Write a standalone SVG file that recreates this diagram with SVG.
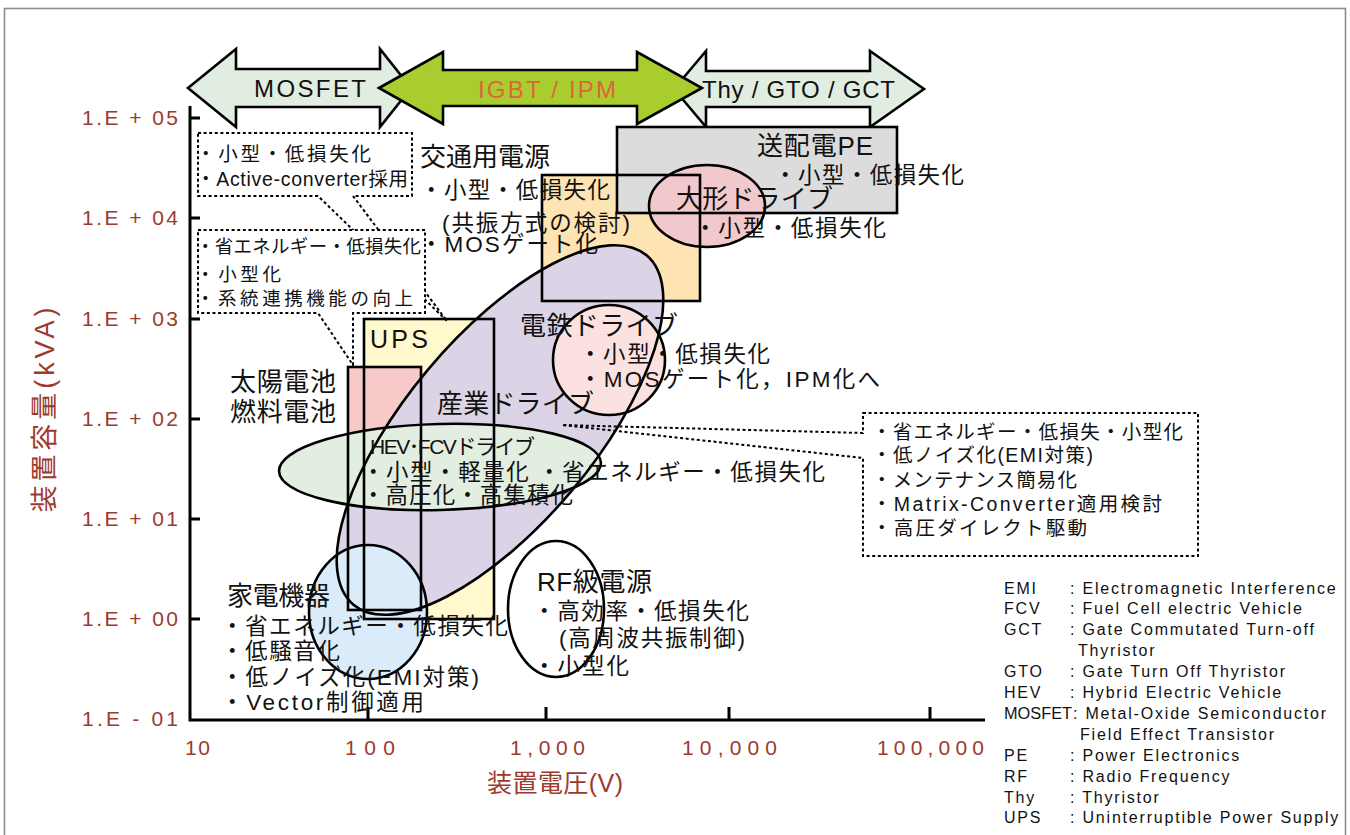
<svg xmlns="http://www.w3.org/2000/svg" xmlns:xlink="http://www.w3.org/1999/xlink" width="1350" height="835" viewBox="0 0 1350 835">
<style>
text{font-family:"Liberation Sans","Noto Sans CJK JP",sans-serif;fill:#111}
.t24{font-size:26px}
.t21{font-size:22.5px}
.t18{font-size:19.5px}
.t18s{font-size:18.5px}
.lg{font-size:16px;letter-spacing:1.8px}
.ax{font-size:21px;fill:#9c3a2f}
.axt{font-size:25px;fill:#9c3a2f}
.ol{fill:none;stroke:#000;stroke-width:2.6}
.dot{fill:none;stroke:#000;stroke-width:2;stroke-dasharray:3 2.6}
.arw{stroke:#000;stroke-width:2.6;stroke-linejoin:miter}
.axis{stroke:#000;stroke-width:3;fill:none}
</style>
<defs>
<rect id="shp-orange" x="542" y="175" width="158" height="126"/>
<rect id="shp-gray" x="617" y="127" width="280" height="86"/>
<ellipse id="shp-large" cx="707" cy="206" rx="58" ry="41"/>
<rect id="shp-ups" x="364" y="319" width="130" height="300"/>
<rect id="shp-solar" x="348" y="367" width="73" height="243"/>
<ellipse id="shp-ind" cx="500" cy="430" rx="228" ry="94" transform="rotate(-50 500 430)"/>
<ellipse id="shp-rail" cx="609" cy="360" rx="56" ry="55"/>
<ellipse id="shp-hev" cx="440" cy="467" rx="161" ry="43" transform="rotate(-1.5 440 467)"/>
<ellipse id="shp-home" cx="368" cy="612" rx="59" ry="67"/>
<ellipse id="shp-rf" cx="556" cy="609" rx="48" ry="68"/>
</defs>
<rect x="4.5" y="8.5" width="1341" height="840" fill="#fff" stroke="#8c8c8c" stroke-width="1.6"/>

<g id="device-arrows">
<polygon class="arw" fill="#e0ede0" points="188,88 236,49 236,69 380,69 380,49 411,88 380,127 380,107 236,107 236,127"/>
<polygon class="arw" fill="#e0ede0" points="674,89 706,51 706,71 870,71 870,51 924,89 870,127 870,107 706,107 706,127"/>
<polygon class="arw" fill="#a9cd2f" points="379,88 443,52 443,70 637,70 637,52 702,88 637,124 637,106 443,106 443,124"/>
<text x="254" y="97" style="font-size:24px" textLength="112" lengthAdjust="spacing">MOSFET</text>
<text x="478" y="98" style="font-size:24px;fill:#e0643c" textLength="138" lengthAdjust="spacing">IGBT / IPM</text>
<text x="702" y="98" style="font-size:24px" textLength="193" lengthAdjust="spacing">Thy / GTO / GCT</text>
</g>

<g id="fills">
<use xlink:href="#shp-orange" fill="#fde4b2"/>
<use xlink:href="#shp-gray" fill="#dcdcdc"/>
<use xlink:href="#shp-large" fill="#f1c9cd"/>
<use xlink:href="#shp-ups" fill="#fff9cd"/>
<use xlink:href="#shp-solar" fill="#f7c9c8"/>
<use xlink:href="#shp-ind" fill="#dcd4e6"/>
<use xlink:href="#shp-rail" fill="#fbe1df"/>
<use xlink:href="#shp-hev" fill="#e2eee0"/>
<use xlink:href="#shp-home" fill="#daebf9"/>
<use xlink:href="#shp-rf" fill="#ffffff"/>
</g>

<g id="axes">
<path class="axis" d="M190,106 V720 H985"/>
<path class="axis" d="M190,118 h10 M190,218 h10 M190,319 h10 M190,419 h10 M190,519 h10 M190,619 h10"/>
<path class="axis" d="M368,707 V720 M546,707 V720 M729,707 V720 M930,707 V720"/>
<text class="ax" x="82" y="125" textLength="96" lengthAdjust="spacing">1.E + 05</text>
<text class="ax" x="82" y="225" textLength="96" lengthAdjust="spacing">1.E + 04</text>
<text class="ax" x="82" y="326" textLength="96" lengthAdjust="spacing">1.E + 03</text>
<text class="ax" x="82" y="426" textLength="96" lengthAdjust="spacing">1.E + 02</text>
<text class="ax" x="82" y="526" textLength="96" lengthAdjust="spacing">1.E + 01</text>
<text class="ax" x="82" y="626" textLength="96" lengthAdjust="spacing">1.E + 00</text>
<text class="ax" x="82" y="726" textLength="96" lengthAdjust="spacing">1.E - 01</text>
<text class="ax" x="185" y="755" textLength="25" lengthAdjust="spacing">10</text>
<text class="ax" x="345" y="755" textLength="50" lengthAdjust="spacing">100</text>
<text class="ax" x="510" y="755" textLength="75" lengthAdjust="spacing">1,000</text>
<text class="ax" x="682" y="755" textLength="95" lengthAdjust="spacing">10,000</text>
<text class="ax" x="877" y="755" textLength="107" lengthAdjust="spacing">100,000</text>
<text class="axt" x="487" y="792" textLength="136" lengthAdjust="spacing">装置電圧(V)</text>
<text class="axt" transform="translate(54,410) rotate(-90)" text-anchor="middle" style="font-size:27px" textLength="205" lengthAdjust="spacing">装置容量(kVA)</text>
</g>

<g id="callouts">
<path class="dot" d="M198,133 H412 V196 H353 L447,321 L318,196 H198 Z"/>
<path class="dot" style="fill:#fff" d="M198,230 H425 V313 H353 L353,365 L318,313 H198 Z"/>
<path class="dot" d="M863,413 H1198 V556 H863 V458 L562,425 L863,433 Z"/>
</g>

<g id="note-ups">
<text class="t18" x="196" y="161" textLength="175" lengthAdjust="spacing">・小型・低損失化</text>
<text class="t18" x="196" y="186" textLength="212" lengthAdjust="spacing">・Active-converter採用</text>
</g>
<g id="note-solar">
<text class="t18s" x="196" y="253" textLength="225" lengthAdjust="spacing">・省エネルギー・低損失化</text>
<text class="t18s" x="196" y="281" textLength="85" lengthAdjust="spacing">・小型化</text>
<text class="t18s" x="196" y="305" textLength="217" lengthAdjust="spacing">・系統連携機能の向上</text>
</g>
<g id="note-industry">
<text class="t18" x="872" y="439" textLength="311" lengthAdjust="spacing">・省エネルギー・低損失・小型化</text>
<text class="t18" x="872" y="462" textLength="221" lengthAdjust="spacing">・低ノイズ化(EMI対策)</text>
<text class="t18" x="872" y="487" textLength="205" lengthAdjust="spacing">・メンテナンス簡易化</text>
<text class="t18" x="872" y="511" textLength="290" lengthAdjust="spacing">・Matrix-Converter適用検討</text>
<text class="t18" x="872" y="535" textLength="215" lengthAdjust="spacing">・高圧ダイレクト駆動</text>
</g>

<g id="traffic-power">
<use xlink:href="#shp-orange" class="ol"/>
<text class="t24" x="420" y="166" textLength="130" lengthAdjust="spacing">交通用電源</text>
<text class="t21" x="420" y="198" textLength="190" lengthAdjust="spacing">・小型・低損失化</text>
<text class="t21" x="442" y="231" textLength="188" lengthAdjust="spacing">(共振方式の検討)</text>
<text class="t21" x="420" y="252" textLength="178" lengthAdjust="spacing">・MOSゲート化</text>
</g>
<g id="transmission-pe">
<use xlink:href="#shp-gray" class="ol"/>
<text class="t24" x="757" y="155" textLength="116" lengthAdjust="spacing">送配電PE</text>
<text class="t21" x="774" y="183" textLength="190" lengthAdjust="spacing">・小型・低損失化</text>
</g>
<g id="large-drive">
<use xlink:href="#shp-large" class="ol"/>
<text class="t24" x="676" y="208" textLength="157" lengthAdjust="spacing">大形ドライブ</text>
<text class="t21" x="694" y="236" textLength="192" lengthAdjust="spacing">・小型・低損失化</text>
</g>
<g id="ups">
<use xlink:href="#shp-ups" class="ol"/>
<text class="t24" x="370" y="348" style="font-size:25px" textLength="58" lengthAdjust="spacing">UPS</text>
</g>
<g id="solar-fuel-cell">
<use xlink:href="#shp-solar" class="ol"/>
<text class="t24" x="230" y="391" textLength="106" lengthAdjust="spacing">太陽電池</text>
<text class="t24" x="230" y="421" textLength="106" lengthAdjust="spacing">燃料電池</text>
</g>
<g id="industrial-drive">
<use xlink:href="#shp-ind" class="ol"/>
<text class="t24" x="437" y="413" textLength="157" lengthAdjust="spacing">産業ドライブ</text>
</g>
<g id="railway-drive">
<use xlink:href="#shp-rail" class="ol"/>
<text class="t24" x="520" y="335" textLength="158" lengthAdjust="spacing">電鉄ドライブ</text>
<text class="t21" x="579" y="362" textLength="191" lengthAdjust="spacing">・小型・低損失化</text>
<text class="t21" x="579" y="387" textLength="301" lengthAdjust="spacing">・MOSゲート化，IPM化へ</text>
</g>
<g id="hev-fcv-drive">
<use xlink:href="#shp-hev" class="ol"/>
<text class="t21" x="370" y="454" style="font-size:21px" textLength="165" lengthAdjust="spacing">HEV･FCVドライブ</text>
<text class="t21" x="362" y="480" textLength="463" lengthAdjust="spacing">・小型・軽量化 ・省エネルギー・低損失化</text>
<text class="t21" x="362" y="503" textLength="211" lengthAdjust="spacing">・高圧化・高集積化</text>
</g>
<g id="home-appliances">
<use xlink:href="#shp-home" class="ol"/>
<text class="t24" x="227" y="605" textLength="103" lengthAdjust="spacing">家電機器</text>
<text class="t21" x="221" y="634" textLength="287" lengthAdjust="spacing">・省エネルギー・低損失化</text>
<text class="t21" x="221" y="659" textLength="119" lengthAdjust="spacing">・低騒音化</text>
<text class="t21" x="221" y="685" textLength="258" lengthAdjust="spacing">・低ノイズ化(EMI対策)</text>
<text class="t21" x="221" y="710" textLength="203" lengthAdjust="spacing">・Vector制御適用</text>
</g>
<g id="rf-power">
<use xlink:href="#shp-rf" class="ol"/>
<text class="t24" x="537" y="591" textLength="115" lengthAdjust="spacing">RF級電源</text>
<text class="t21" x="533" y="619" textLength="216" lengthAdjust="spacing">・高効率・低損失化</text>
<text class="t21" x="559" y="646" textLength="186" lengthAdjust="spacing">(高周波共振制御)</text>
<text class="t21" x="533" y="674" textLength="96" lengthAdjust="spacing">・小型化</text>
</g>

<g id="legend">
<text class="lg" x="1004" y="593.5">EMI</text><text class="lg" x="1070" y="593.5">: Electromagnetic Interference</text>
<text class="lg" x="1004" y="614.4">FCV</text><text class="lg" x="1070" y="614.4">: Fuel Cell electric Vehicle</text>
<text class="lg" x="1004" y="635.3">GCT</text><text class="lg" x="1070" y="635.3">: Gate Commutated Turn-off</text>
<text class="lg" x="1078" y="656.2">Thyristor</text>
<text class="lg" x="1004" y="677.1">GTO</text><text class="lg" x="1070" y="677.1">: Gate Turn Off Thyristor</text>
<text class="lg" x="1004" y="698">HEV</text><text class="lg" x="1070" y="698">: Hybrid Electric Vehicle</text>
<text x="1004" y="718.9" style="font-size:16px" textLength="68" lengthAdjust="spacingAndGlyphs">MOSFET</text><text class="lg" x="1073" y="718.9">: Metal-Oxide Semiconductor</text>
<text class="lg" x="1080" y="739.8">Field Effect Transistor</text>
<text class="lg" x="1004" y="760.7">PE</text><text class="lg" x="1070" y="760.7">: Power Electronics</text>
<text class="lg" x="1004" y="781.6">RF</text><text class="lg" x="1070" y="781.6">: Radio Frequency</text>
<text class="lg" x="1004" y="802.5">Thy</text><text class="lg" x="1070" y="802.5">: Thyristor</text>
<text class="lg" x="1004" y="823.4">UPS</text><text class="lg" x="1070" y="823.4">: Uninterruptible Power Supply</text>
</g>
</svg>
